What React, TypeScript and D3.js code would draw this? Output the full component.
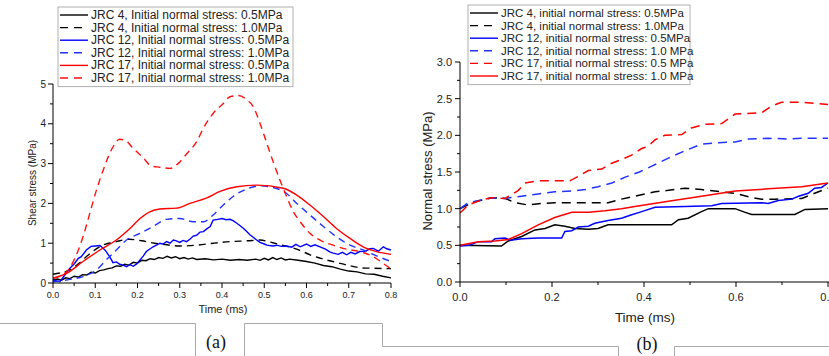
import React from "react";
import * as d3 from "d3";

type Pt = [number, number];

// ---- (a) shear stress vs time ----
const shearJrc4Low: Pt[] = [
  [0, 0.08], [0.01, 0.1], [0.02, 0.07], [0.03, 0.13], [0.04, 0.11], [0.05, 0.17], [0.06, 0.15],
  [0.07, 0.21], [0.08, 0.2], [0.09, 0.27], [0.1, 0.25], [0.11, 0.31], [0.12, 0.33], [0.13, 0.36],
  [0.14, 0.38], [0.15, 0.43], [0.16, 0.42], [0.17, 0.47], [0.18, 0.45], [0.19, 0.52], [0.2, 0.5],
  [0.21, 0.57], [0.22, 0.56], [0.23, 0.61], [0.24, 0.59], [0.25, 0.64], [0.26, 0.62], [0.27, 0.67],
  [0.28, 0.63], [0.29, 0.66], [0.3, 0.61], [0.31, 0.64], [0.32, 0.6], [0.33, 0.63], [0.34, 0.59],
  [0.36, 0.61], [0.38, 0.58], [0.4, 0.6], [0.42, 0.57], [0.44, 0.59], [0.46, 0.57], [0.48, 0.6],
  [0.49, 0.57], [0.5, 0.62], [0.51, 0.58], [0.52, 0.64], [0.53, 0.59], [0.54, 0.63], [0.55, 0.58],
  [0.56, 0.6], [0.58, 0.57], [0.6, 0.54], [0.62, 0.5], [0.64, 0.44], [0.66, 0.41], [0.68, 0.35],
  [0.7, 0.3], [0.72, 0.28], [0.74, 0.23], [0.76, 0.22], [0.78, 0.17], [0.8, 0.13],
];
const shearJrc4High: Pt[] = [
  [0, 0.22], [0.02, 0.26], [0.04, 0.33], [0.06, 0.48], [0.08, 0.67], [0.1, 0.84], [0.12, 0.96],
  [0.15, 1.04], [0.18, 1.1], [0.21, 1.06], [0.24, 1.0], [0.27, 0.96], [0.3, 0.93], [0.34, 0.95],
  [0.38, 1.0], [0.42, 1.04], [0.46, 1.06], [0.49, 1.08], [0.52, 1.01], [0.55, 0.93], [0.58, 0.84],
  [0.61, 0.7], [0.64, 0.6], [0.67, 0.52], [0.7, 0.44], [0.73, 0.38], [0.76, 0.37], [0.8, 0.36],
];
const shearJrc12Low: Pt[] = [
  [0, 0.08], [0.016, 0.03], [0.028, 0.2], [0.04, 0.37], [0.051, 0.49], [0.06, 0.62], [0.067, 0.66],
  [0.079, 0.83], [0.09, 0.92], [0.1, 0.93], [0.111, 0.94], [0.12, 0.86], [0.126, 0.79], [0.134, 0.66],
  [0.142, 0.51], [0.15, 0.53], [0.158, 0.47], [0.166, 0.45], [0.174, 0.41], [0.182, 0.46], [0.19, 0.42],
  [0.198, 0.48], [0.206, 0.58], [0.214, 0.68], [0.221, 0.79], [0.23, 0.86], [0.237, 0.91], [0.245, 0.95],
  [0.253, 1.0], [0.26, 0.98], [0.269, 1.04], [0.277, 1.0], [0.285, 1.08], [0.292, 1.06], [0.3, 1.02],
  [0.308, 1.07], [0.316, 1.04], [0.324, 1.1], [0.332, 1.18], [0.34, 1.2], [0.348, 1.28], [0.356, 1.29],
  [0.364, 1.36], [0.372, 1.42], [0.379, 1.58], [0.39, 1.6], [0.4, 1.62], [0.41, 1.59], [0.419, 1.6],
  [0.427, 1.56], [0.435, 1.5], [0.443, 1.44], [0.451, 1.37], [0.458, 1.3], [0.466, 1.21], [0.474, 1.15],
  [0.482, 1.08], [0.49, 1.02], [0.5, 0.98], [0.506, 0.95], [0.52, 0.93], [0.53, 0.95], [0.54, 0.92],
  [0.553, 0.93], [0.565, 0.9], [0.575, 0.97], [0.585, 0.91], [0.6, 0.98], [0.61, 0.92], [0.62, 0.96],
  [0.632, 0.91], [0.645, 0.85], [0.655, 0.78], [0.663, 0.75], [0.675, 0.72], [0.685, 0.77], [0.695, 0.71],
  [0.705, 0.77], [0.715, 0.73], [0.726, 0.79], [0.74, 0.8], [0.75, 0.86], [0.758, 0.87], [0.77, 0.8],
  [0.782, 0.91], [0.79, 0.86], [0.8, 0.83],
];
const shearJrc12High: Pt[] = [
  [0, 0.03], [0.04, 0.09], [0.071, 0.16], [0.103, 0.33], [0.126, 0.58], [0.15, 0.83], [0.174, 1.08],
  [0.206, 1.25], [0.237, 1.42], [0.269, 1.6], [0.3, 1.62], [0.332, 1.54], [0.356, 1.54], [0.379, 1.71],
  [0.403, 1.96], [0.427, 2.18], [0.458, 2.36], [0.49, 2.44], [0.521, 2.4], [0.553, 2.25], [0.577, 2.0],
  [0.608, 1.71], [0.64, 1.42], [0.671, 1.16], [0.703, 0.95], [0.734, 0.83], [0.766, 0.68], [0.8, 0.54],
];
const shearJrc17Low: Pt[] = [
  [0, 0.12], [0.032, 0.24], [0.071, 0.54], [0.111, 0.83], [0.15, 1.08], [0.182, 1.37], [0.206, 1.62],
  [0.229, 1.79], [0.253, 1.86], [0.292, 1.88], [0.324, 2.0], [0.364, 2.14], [0.395, 2.3], [0.435, 2.42],
  [0.482, 2.46], [0.545, 2.38], [0.577, 2.21], [0.608, 1.96], [0.64, 1.67], [0.671, 1.37], [0.703, 1.12],
  [0.734, 0.91], [0.766, 0.79], [0.8, 0.72],
];
const shearJrc17High: Pt[] = [
  [0, 0.12], [0.032, 0.28], [0.05, 0.58], [0.071, 1.16], [0.087, 1.75], [0.103, 2.34], [0.119, 2.84],
  [0.138, 3.34], [0.158, 3.61], [0.17, 3.59], [0.19, 3.38], [0.213, 3.15], [0.233, 2.94], [0.253, 2.91],
  [0.277, 2.88], [0.296, 3.0], [0.316, 3.24], [0.34, 3.55], [0.356, 3.89], [0.379, 4.26], [0.403, 4.51],
  [0.419, 4.68], [0.439, 4.71], [0.458, 4.61], [0.474, 4.43], [0.49, 4.01], [0.506, 3.51], [0.521, 3.05],
  [0.537, 2.59], [0.553, 2.17], [0.569, 1.79], [0.585, 1.54], [0.608, 1.25], [0.632, 1.08], [0.663, 0.95],
  [0.695, 0.85], [0.726, 0.79], [0.758, 0.66], [0.782, 0.49], [0.8, 0.35],
];

// ---- (b) normal stress vs time ----
const normJrc4Low: Pt[] = [
  [0, 0.5], [0.09, 0.49], [0.105, 0.56], [0.134, 0.62], [0.163, 0.71], [0.185, 0.73], [0.206, 0.78],
  [0.228, 0.76], [0.25, 0.73], [0.279, 0.72], [0.3, 0.73], [0.322, 0.78], [0.46, 0.78], [0.475, 0.85],
  [0.496, 0.87], [0.525, 0.96], [0.54, 1.0], [0.598, 1.0], [0.62, 0.95], [0.634, 0.92], [0.728, 0.92],
  [0.75, 0.99], [0.8, 1.0],
];
const normJrc4High: Pt[] = [
  [0, 1.0], [0.03, 1.09], [0.07, 1.15], [0.098, 1.14], [0.12, 1.08], [0.148, 1.05], [0.177, 1.07],
  [0.206, 1.08], [0.279, 1.08], [0.322, 1.08], [0.351, 1.13], [0.38, 1.17], [0.424, 1.23], [0.453, 1.25],
  [0.489, 1.28], [0.525, 1.26], [0.569, 1.23], [0.598, 1.21], [0.634, 1.15], [0.656, 1.13], [0.685, 1.13],
  [0.743, 1.14], [0.771, 1.21], [0.8, 1.28],
];
const normJrc12Low: Pt[] = [
  [0, 0.49], [0.02, 0.5], [0.04, 0.55], [0.069, 0.55], [0.076, 0.59], [0.098, 0.6], [0.11, 0.57],
  [0.134, 0.59], [0.17, 0.6], [0.221, 0.6], [0.228, 0.69], [0.243, 0.7], [0.257, 0.75], [0.279, 0.76],
  [0.293, 0.8], [0.322, 0.84], [0.351, 0.87], [0.37, 0.91], [0.395, 0.96], [0.424, 1.02], [0.489, 1.03],
  [0.547, 1.04], [0.569, 1.07], [0.656, 1.08], [0.67, 1.07], [0.692, 1.11], [0.721, 1.13], [0.736, 1.17],
  [0.757, 1.21], [0.771, 1.28], [0.786, 1.29], [0.8, 1.35],
];
const normJrc12High: Pt[] = [
  [0, 1.0], [0.018, 1.08], [0.047, 1.12], [0.069, 1.15], [0.098, 1.14], [0.134, 1.17], [0.17, 1.2],
  [0.206, 1.23], [0.243, 1.24], [0.272, 1.26], [0.3, 1.3], [0.33, 1.35], [0.359, 1.43], [0.39, 1.5],
  [0.417, 1.58], [0.453, 1.69], [0.489, 1.79], [0.525, 1.88], [0.562, 1.9], [0.598, 1.91], [0.627, 1.95],
  [0.67, 1.96], [0.714, 1.95], [0.743, 1.96], [0.8, 1.96],
];
const normJrc17Dash: Pt[] = [
  [0, 0.94], [0.018, 1.05], [0.047, 1.12], [0.069, 1.15], [0.098, 1.14], [0.112, 1.19], [0.127, 1.25],
  [0.141, 1.35], [0.17, 1.38], [0.206, 1.38], [0.239, 1.38], [0.257, 1.44], [0.279, 1.52], [0.308, 1.54],
  [0.33, 1.62], [0.351, 1.67], [0.373, 1.73], [0.395, 1.82], [0.409, 1.85], [0.424, 1.94], [0.445, 2.0],
  [0.482, 2.01], [0.503, 2.1], [0.533, 2.15], [0.569, 2.16], [0.598, 2.29], [0.656, 2.31], [0.678, 2.4],
  [0.699, 2.45], [0.743, 2.45], [0.8, 2.42],
];
const normJrc17Solid: Pt[] = [
  [0, 0.5], [0.04, 0.55], [0.076, 0.56], [0.105, 0.58], [0.134, 0.66], [0.17, 0.78], [0.206, 0.88],
  [0.243, 0.95], [0.279, 0.95], [0.315, 0.97], [0.351, 1.0], [0.38, 1.03], [0.453, 1.1], [0.525, 1.17],
  [0.598, 1.24], [0.67, 1.27], [0.743, 1.3], [0.8, 1.35],
];

const legendA = [
  "JRC 4, Initial normal stress: 0.5MPa",
  "JRC 4, Initial normal stress: 1.0MPa",
  "JRC 12, Initial normal stress: 0.5MPa",
  "JRC 12, Initial normal stress: 1.0MPa",
  "JRC 17, Initial normal stress: 0.5MPa",
  "JRC 17, Initial normal stress: 1.0MPa",
];
const legendB = [
  "JRC 4, initial normal stress: 0.5MPa",
  "JRC 4, initial normal stress: 1.0MPa",
  "JRC 12, initial normal stress: 0.5MPa",
  "JRC 12, initial normal stress: 1.0 MPa",
  "JRC 17, initial normal stress: 0.5 MPa",
  "JRC 17, initial normal stress: 1.0 MPa",
];

const ticksA = [0, 0.1, 0.2, 0.3, 0.4, 0.5, 0.6, 0.7, 0.8];
const yTicksA = [0, 1, 2, 3, 4, 5];
const ticksB = [0, 0.2, 0.4, 0.6, 0.8];
const yTicksB = [0, 0.5, 1.0, 1.5, 2.0, 2.5, 3.0];

const FONT = "Liberation Sans, Arial, sans-serif";

type S = { data: Pt[]; color: string; dash: boolean; smooth: boolean };

const seriesA: S[] = [
  { data: shearJrc4Low, color: "#000", dash: false, smooth: false },
  { data: shearJrc4High, color: "#000", dash: true, smooth: true },
  { data: shearJrc12Low, color: "#0000ff", dash: false, smooth: false },
  { data: shearJrc12High, color: "#2233ff", dash: true, smooth: true },
  { data: shearJrc17Low, color: "#ff0000", dash: false, smooth: true },
  { data: shearJrc17High, color: "#ff1010", dash: true, smooth: true },
];
const seriesB: S[] = [
  { data: normJrc4Low, color: "#000", dash: false, smooth: false },
  { data: normJrc4High, color: "#000", dash: true, smooth: false },
  { data: normJrc12Low, color: "#0000ff", dash: false, smooth: false },
  { data: normJrc12High, color: "#2233ff", dash: true, smooth: false },
  { data: normJrc17Dash, color: "#ff0000", dash: true, smooth: false },
  { data: normJrc17Solid, color: "#ff0000", dash: false, smooth: false },
];

function Legend({ x, y, w, rows, labels, styles, fs, lineLen }: any) {
  return (
    <g>
      <rect x={x} y={y} width={w} height={rows * 12.6 + 4} fill="#fff" stroke="#b0b0b0" strokeWidth={1} />
      {labels.map((l: string, i: number) => {
        const cy = y + 8 + i * 12.6;
        return (
          <g key={i}>
            <line x1={x + 2} x2={x + 2 + lineLen} y1={cy} y2={cy} stroke={styles[i].color} strokeWidth={1.4}
              strokeDasharray={styles[i].dash ? "8,6" : undefined} />
            <text x={x + lineLen + 5} y={cy + 4} fontFamily={FONT} fontSize={fs} fill="#222">{l}</text>
          </g>
        );
      })}
    </g>
  );
}

export default function App() {
  // chart (a)
  const xa = d3.scaleLinear().domain([0, 0.8]).range([53, 391]);
  const ya = d3.scaleLinear().domain([0, 5]).range([283, 84]);
  // chart (b)
  const xb = d3.scaleLinear().domain([0, 0.8]).range([460, 828]);
  const yb = d3.scaleLinear().domain([0, 3]).range([282, 62]);

  const lineFor = (x: any, y: any, smooth: boolean) =>
    d3.line<Pt>().x((d) => x(d[0])).y((d) => y(d[1])).curve(smooth ? d3.curveMonotoneX : d3.curveLinear);

  const minorA = d3.range(0, 17).map((i) => i * 0.05);
  const minorYA = d3.range(0, 11).map((i) => i * 0.5);
  const minorB = d3.range(0, 9).map((i) => i * 0.1);
  const minorYB = d3.range(0, 13).map((i) => i * 0.25);

  return (
    <svg width={829} height={356} style={{ position: "absolute", left: 0, top: 0, background: "#fff" }}>
      {/* ---------- (a) ---------- */}
      {seriesA.map((s, i) => (
        <path key={i} d={lineFor(xa, ya, s.smooth)(s.data) || ""} fill="none" stroke={s.color}
          strokeWidth={1.4} strokeDasharray={s.dash ? "7,5" : undefined} />
      ))}
      <line x1={53} x2={53} y1={84} y2={283} stroke="#000" />
      <line x1={53} x2={391} y1={283} y2={283} stroke="#000" />
      {minorA.map((t, i) => (
        <line key={i} x1={xa(t)} x2={xa(t)} y1={283} y2={i % 2 === 0 ? 288 : 286} stroke="#000" />
      ))}
      {minorYA.map((v, i) => (
        <line key={i} x1={i % 2 === 0 ? 48 : 50} x2={53} y1={ya(v)} y2={ya(v)} stroke="#000" />
      ))}
      {ticksA.map((t) => (
        <text key={t} x={xa(t)} y={298} textAnchor="middle" fontFamily={FONT} fontSize={9} fill="#222">
          {d3.format(".1f")(t)}
        </text>
      ))}
      {yTicksA.map((v) => (
        <text key={v} x={46} y={ya(v) + 3.5} textAnchor="end" fontFamily={FONT} fontSize={10} fill="#222">
          {v}
        </text>
      ))}
      <text transform="translate(36,183) rotate(-90)" textAnchor="middle" fontFamily={FONT} fontSize={10} fill="#222">
        Shear stress (MPa)
      </text>
      <text x={223} y={313} textAnchor="middle" fontFamily={FONT} fontSize={11} fill="#222">Time (ms)</text>
      <Legend x={58} y={7} w={235} rows={6} labels={legendA} styles={seriesA} fs={12} lineLen={28} />

      {/* ---------- (b) ---------- */}
      {seriesB.map((s, i) => (
        <path key={i} d={lineFor(xb, yb, s.smooth)(s.data) || ""} fill="none" stroke={s.color}
          strokeWidth={1.5} strokeDasharray={s.dash ? "9,6" : undefined} />
      ))}
      <line x1={460} x2={460} y1={62} y2={282} stroke="#000" />
      <line x1={460} x2={829} y1={282} y2={282} stroke="#000" />
      {minorB.map((t, i) => (
        <line key={i} x1={xb(t)} x2={xb(t)} y1={282} y2={i % 2 === 0 ? 287 : 285} stroke="#000" />
      ))}
      {minorYB.map((v, i) => (
        <line key={i} x1={i % 2 === 0 ? 455 : 457} x2={460} y1={yb(v)} y2={yb(v)} stroke="#000" />
      ))}
      {ticksB.map((t) => (
        <text key={t} x={xb(t)} y={301} textAnchor="middle" fontFamily={FONT} fontSize={11} fill="#222">
          {d3.format(".1f")(t)}
        </text>
      ))}
      {yTicksB.map((v) => (
        <text key={v} x={452} y={yb(v) + 4} textAnchor="end" fontFamily={FONT} fontSize={11} fill="#222">
          {d3.format(".1f")(v)}
        </text>
      ))}
      <text transform="translate(432,171) rotate(-90)" textAnchor="middle" fontFamily={FONT} fontSize={13} fill="#222">
        Normal stress (MPa)
      </text>
      <text x={645} y={322} textAnchor="middle" fontFamily={FONT} fontSize={13.5} fill="#222">Time (ms)</text>
      <Legend x={468} y={5} w={222} rows={6} labels={legendB} styles={seriesB} fs={11.5} lineLen={28} />

      {/* ---------- panel frame lines and captions ---------- */}
      <path d="M0,323.5 H195.5 V356 M244.5,356 V323.5 H382.5 V346.5 H618.5 V356 M674.5,356 V346.5 H829"
        fill="none" stroke="#a8a8a8" strokeWidth={1} />
      <text x={216} y={348} textAnchor="middle" fontFamily="Liberation Serif, Times New Roman, serif" fontSize={18} fill="#111">(a)</text>
      <text x={647} y={350} textAnchor="middle" fontFamily="Liberation Serif, Times New Roman, serif" fontSize={18} fill="#111">(b)</text>
    </svg>
  );
}
